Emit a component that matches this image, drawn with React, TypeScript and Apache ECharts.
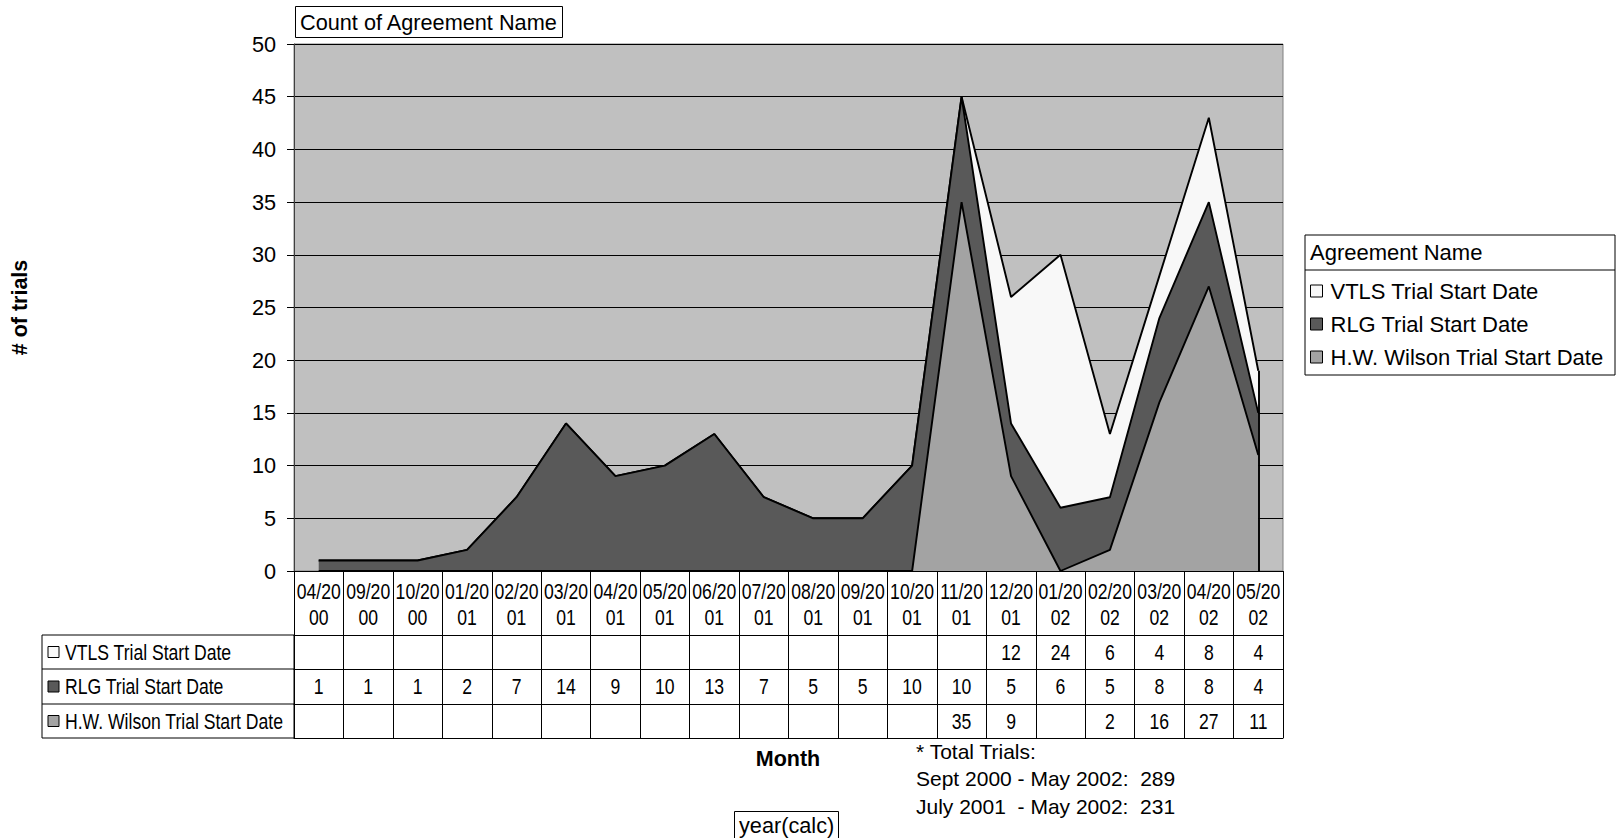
import React, { useEffect, useRef } from "react";
import * as echarts from "echarts";

const categories = [
  "04/2000", "09/2000", "10/2000", "01/2001", "02/2001", "03/2001", "04/2001",
  "05/2001", "06/2001", "07/2001", "08/2001", "09/2001", "10/2001", "11/2001",
  "12/2001", "01/2002", "02/2002", "03/2002", "04/2002", "05/2002",
];
const vtlsValues: (number | null)[] = [
  null, null, null, null, null, null, null, null, null, null, null, null, null, null,
  12, 24, 6, 4, 8, 4,
];
const rlgValues: (number | null)[] = [
  1, 1, 1, 2, 7, 14, 9, 10, 13, 7, 5, 5, 10, 10, 5, 6, 5, 8, 8, 4,
];
const hwValues: (number | null)[] = [
  null, null, null, null, null, null, null, null, null, null, null, null, null,
  35, 9, null, 2, 16, 27, 11,
];
const seriesNames = ["VTLS Trial Start Date", "RLG Trial Start Date", "H.W. Wilson Trial Start Date"];
const seriesColors = ["#F8F8F8", "#595959", "#A3A3A3"];
const yMin = 0;
const yMax = 50;
const yInterval = 5;
const chartTitle = "Count of Agreement Name";
const legendTitle = "Agreement Name";
const yAxisName = "# of trials";
const xAxisName = "Month";
const fieldButton = "year(calc)";
const notes = ["* Total Trials:", "Sept 2000 - May 2002:  289", "July 2001  - May 2002:  231"];

const SANS = "'Liberation Sans', Arial, sans-serif";
const NARROW_SCALE = 0.8;

export default function App() {
  const ref = useRef<HTMLDivElement>(null);
  useEffect(() => {
    if (!ref.current) return;
    const chart = echarts.init(ref.current, null, { renderer: "svg" });
    const gridLeft = 294;
    const gridRight = 1616 - 1283;
    const gridTop = 44;
    const gridBottom = 838 - 571;
    const axisY = 571;
    const rowLines = [635, 669, 704, 738];
    const rowCenters = [652, 686.5, 721];
    const headerCenter = 604;

    const rowAxis = (offset: number) => ({
      type: "category",
      gridIndex: 0,
      data: categories,
      boundaryGap: true,
      position: "bottom",
      offset,
      axisLine: { show: true, lineStyle: { color: "#000", width: 1 } },
      axisTick: { show: false },
      splitLine: { show: false },
      axisLabel: { show: false },
    });

    const lastIdx = categories.length - 1;
    const lastTotal = (vtlsValues[lastIdx] ?? 0) + (rlgValues[lastIdx] ?? 0) + (hwValues[lastIdx] ?? 0);

    const stackedSeries = [
      { name: seriesNames[2], data: hwValues, color: seriesColors[2], z: 4 },
      { name: seriesNames[1], data: rlgValues, color: seriesColors[1], z: 3 },
      { name: seriesNames[0], data: vtlsValues, color: seriesColors[0], z: 2 },
    ].map((s, k) => ({
      name: s.name,
      type: "line",
      stack: "total",
      z: s.z,
      symbol: "none",
      xAxisIndex: 0,
      yAxisIndex: 0,
      data: s.data.map((v) => v ?? 0),
      itemStyle: { color: s.color },
      lineStyle: { color: "#000", width: 1.9 },
      areaStyle: { color: s.color, opacity: 1 },
      markLine:
        k === 0
          ? {
              silent: true,
              symbol: ["none", "none"],
              label: { show: false },
              lineStyle: { color: "#000", width: 1.9, type: "solid" },
              data: [[{ coord: [lastIdx, 0] }, { coord: [lastIdx, lastTotal] }]],
            }
          : undefined,
    }));

    chart.setOption({
      animation: false,
      backgroundColor: "#fff",
      title: [
        {
          text: chartTitle,
          left: 295,
          top: 6,
          padding: [4, 5],
          borderColor: "#000",
          borderWidth: 1,
          backgroundColor: "#fff",
          textStyle: { fontSize: 21.7, fontWeight: "normal", color: "#000", fontFamily: SANS, lineHeight: 24 },
        },
        {
          text: fieldButton,
          left: 734,
          top: 811,
          padding: [2, 5],
          borderColor: "#000",
          borderWidth: 1,
          backgroundColor: "#fff",
          textStyle: { fontSize: 21.7, fontWeight: "normal", color: "#000", fontFamily: SANS, lineHeight: 24 },
        },
      ],
      legend: {
        data: seriesNames,
        orient: "vertical",
        left: 1310,
        top: 280,
        itemWidth: 12,
        itemHeight: 12,
        itemGap: 11,
        icon: "rect",
        padding: 0,
        selectedMode: false,
        itemStyle: { borderColor: "#000", borderWidth: 1 },
        textStyle: { fontSize: 22, color: "#000", fontFamily: SANS, lineHeight: 22, padding: [0, 0, 0, 3] },
      },
      grid: {
        left: gridLeft,
        right: gridRight,
        top: gridTop,
        bottom: gridBottom,
        show: true,
        backgroundColor: "#C0C0C0",
        borderColor: "#808080",
        borderWidth: 1,
      },
      xAxis: [
        {
          type: "category",
          data: categories,
          boundaryGap: true,
          position: "bottom",
          axisLine: { show: true, lineStyle: { color: "#000", width: 1 } },
          axisTick: { show: true, interval: 0, length: rowLines[3] - axisY, lineStyle: { color: "#000", width: 1 } },
          splitLine: { show: false },
          axisLabel: { show: false },
        },
        rowAxis(rowLines[0] - axisY),
        rowAxis(rowLines[1] - axisY),
        rowAxis(rowLines[2] - axisY),
        rowAxis(rowLines[3] - axisY),
      ],
      yAxis: {
        type: "value",
        min: yMin,
        max: yMax,
        interval: yInterval,
        name: yAxisName,
        nameLocation: "middle",
        nameGap: 263,
        nameRotate: 90,
        nameTextStyle: { fontSize: 21.5, fontWeight: "bold", color: "#000", fontFamily: SANS },
        axisLine: { show: true, lineStyle: { color: "#404040", width: 1 } },
        axisTick: { show: true, length: 7, lineStyle: { color: "#000" } },
        axisLabel: { fontSize: 21.7, color: "#000", fontFamily: SANS, margin: 18 },
        splitLine: { show: true, lineStyle: { color: "#000", width: 1 } },
      },
      series: stackedSeries,
    });

    const graphics: any[] = [
      {
        type: "rect",
        shape: { x: 42, y: rowLines[0], width: gridLeft - 42, height: rowLines[3] - rowLines[0] },
        style: { fill: "#fff", stroke: "#000", lineWidth: 1 },
      },
      { type: "line", shape: { x1: 42, y1: rowLines[1], x2: gridLeft, y2: rowLines[1] }, style: { stroke: "#000", lineWidth: 1 } },
      { type: "line", shape: { x1: 42, y1: rowLines[2], x2: gridLeft, y2: rowLines[2] }, style: { stroke: "#000", lineWidth: 1 } },
      {
        type: "rect",
        shape: { x: 1305, y: 235, width: 310, height: 140 },
        style: { fill: "#fff", stroke: "#000", lineWidth: 1 },
      },
      { type: "line", shape: { x1: 1305, y1: 270, x2: 1615, y2: 270 }, style: { stroke: "#000", lineWidth: 1 } },
      {
        type: "text",
        x: 1310,
        y: 252.5,
        style: { text: legendTitle, font: `22px ${SANS}`, fill: "#000", verticalAlign: "middle" },
      },
      {
        type: "text",
        x: 788,
        y: 758.5,
        style: { text: xAxisName, font: `bold 21.5px ${SANS}`, fill: "#000", align: "center", verticalAlign: "middle" },
      },
      ...notes.map((t, i) => ({
        type: "text",
        x: 916,
        y: [751, 778, 806][i],
        style: { text: t, font: `21px ${SANS}`, fill: "#000", verticalAlign: "middle" },
      })),
    ];
    seriesNames.forEach((name, i) => {
      graphics.push({
        type: "rect",
        shape: { x: 48, y: rowCenters[i] - 5.5, width: 11, height: 11 },
        style: { fill: seriesColors[i], stroke: "#000", lineWidth: 1 },
      });
      graphics.push({
        type: "text",
        x: 65,
        y: rowCenters[i],
        scaleX: NARROW_SCALE,
        style: { text: name, font: `22px ${SANS}`, fill: "#000", verticalAlign: "middle" },
      });
    });
    // data table cells, positioned by the category axis scale
    const rows = [vtlsValues, rlgValues, hwValues];
    categories.forEach((c, i) => {
      const px = chart.convertToPixel({ xAxisIndex: 0 }, c) as number;
      graphics.push({
        type: "text",
        x: px,
        y: headerCenter,
        scaleX: NARROW_SCALE,
        style: {
          text: c.slice(0, 5) + "\n" + c.slice(5),
          font: `22px ${SANS}`,
          lineHeight: 26,
          fill: "#000",
          align: "center",
          verticalAlign: "middle",
        },
      });
      rows.forEach((arr, r) => {
        const v = arr[i];
        if (v == null) return;
        graphics.push({
          type: "text",
          x: px,
          y: rowCenters[r],
          scaleX: NARROW_SCALE,
          style: { text: String(v), font: `22px ${SANS}`, fill: "#000", align: "center", verticalAlign: "middle" },
        });
      });
    });

    chart.setOption({ graphic: graphics });
    return () => chart.dispose();
  }, []);
  return <div ref={ref} style={{ position: "absolute", left: 0, top: 0, width: 1616, height: 838 }} />;
}
